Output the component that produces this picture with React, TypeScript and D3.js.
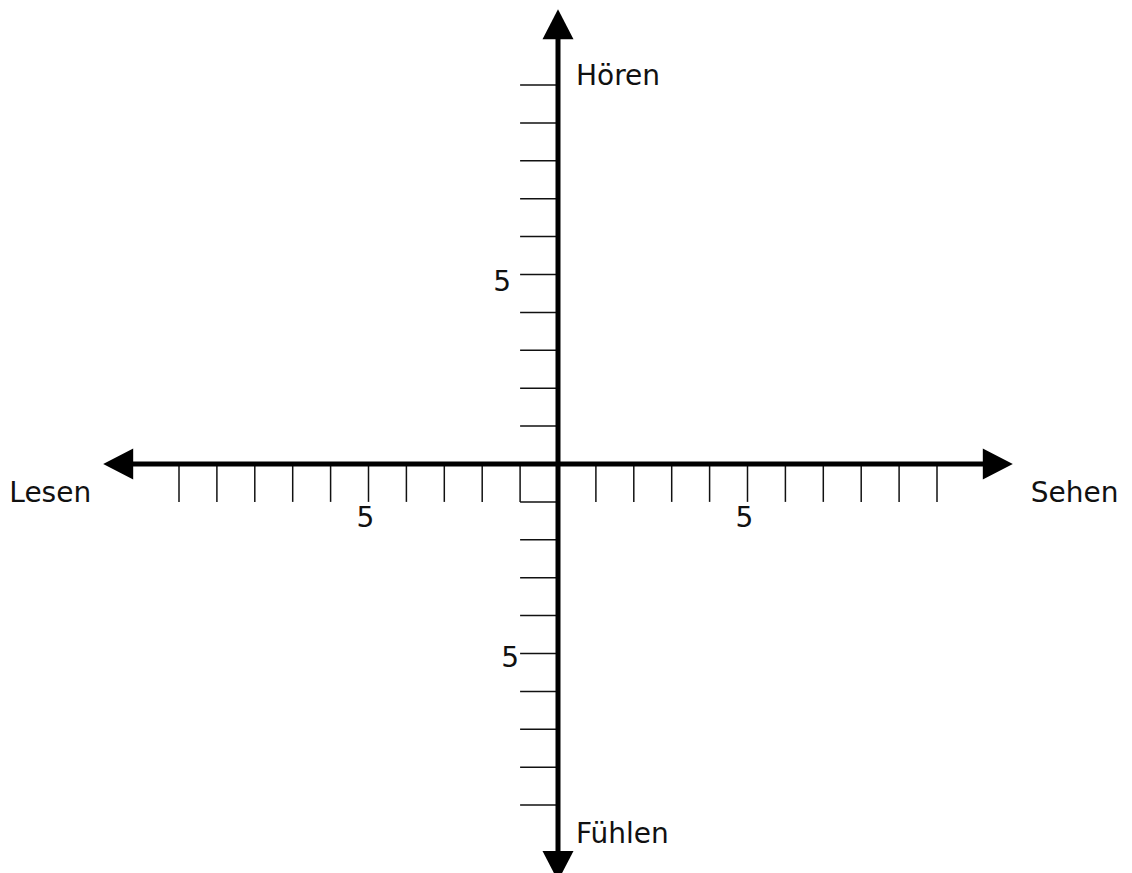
import React from 'react';
import * as d3 from 'd3';

// tick positions along each axis (units)
const xTickValues = [-10, -9, -8, -7, -6, -5, -4, -3, -2, -1, 1, 2, 3, 4, 5, 6, 7, 8, 9, 10];
const yTickValues = [-9, -8, -7, -6, -5, -4, -3, -2, -1, 1, 2, 3, 4, 5, 6, 7, 8, 9, 10];

// labelled ticks (the chart shows "5" on both sides, no sign)
const xTickLabelValues = [-5, 5];
const xTickLabelTexts = ['5', '5'];
const yTickLabelValues = [5, -5];
const yTickLabelTexts = ['5', '5'];

// axis names
const axisNames = ['Sehen', 'Lesen', 'Hören', 'Fühlen'];

const W = 1132;
const H = 873;
const FONT = '"DejaVu Sans", Verdana, sans-serif';

export default function App() {
  const cx = 558;
  const cy = 464;
  const unit = 37.9;

  const x = d3.scaleLinear().domain([-10, 10]).range([cx - 10 * unit, cx + 10 * unit]);
  const y = d3.scaleLinear().domain([-10, 10]).range([cy + 10 * unit, cy - 10 * unit]);

  const ext = 12; // arrow tips at +-12 units (bottom one stops at -11)
  const extBottom = 11;
  const headLen = 30;
  const headHalf = 15.5;

  const arrow = (tx: number, ty: number, dx: number, dy: number) => {
    const bx = tx - dx * headLen;
    const by = ty - dy * headLen;
    const px = -dy * headHalf;
    const py = dx * headHalf;
    return `M${tx},${ty}L${bx + px},${by + py}L${bx - px},${by - py}Z`;
  };

  const tickLen = x(1) - x(0);

  return (
    <svg
      width={W}
      height={H}
      style={{ position: 'absolute', left: 0, top: 0, background: '#fff' }}
    >
      {/* ticks: below the horizontal axis, left of the vertical one */}
      <g stroke="#111" strokeWidth={1.5}>
        {xTickValues.map((v) => (
          <line key={'xt' + v} x1={x(v)} x2={x(v)} y1={y(0)} y2={y(0) + tickLen} />
        ))}
        {yTickValues.map((v) => (
          <line key={'yt' + v} x1={x(0) - tickLen} x2={x(0)} y1={y(v)} y2={y(v)} />
        ))}
      </g>

      {/* main axes */}
      <g stroke="#000" strokeWidth={5}>
        <line x1={x(-ext) + headLen - 2} x2={x(ext) - headLen + 2} y1={y(0)} y2={y(0)} />
        <line x1={x(0)} x2={x(0)} y1={y(ext) + headLen - 2} y2={y(-extBottom) - headLen + 2} />
      </g>
      <g fill="#000">
        <path d={arrow(x(ext), y(0), 1, 0)} />
        <path d={arrow(x(-ext), y(0), -1, 0)} />
        <path d={arrow(x(0), y(ext), 0, -1)} />
        <path d={arrow(x(0), y(-extBottom), 0, 1)} />
      </g>

      {/* tick labels */}
      <g fontFamily={FONT} fontSize={28} fill="#111">
        {xTickLabelValues.map((v, i) => (
          <text key={'xl' + i} x={x(v) - 3} y={y(0) + 63} textAnchor="middle">
            {xTickLabelTexts[i]}
          </text>
        ))}
        {yTickLabelValues.map((v, i) => (
          <text
            key={'yl' + i}
            x={x(0) - tickLen - (v > 0 ? 9 : 1)}
            y={y(v) + (v > 0 ? 16 : 13)}
            textAnchor="end"
          >
            {yTickLabelTexts[i]}
          </text>
        ))}
      </g>

      {/* axis names */}
      <g fontFamily={FONT} fontSize={28} fill="#111">
        <text x={x(ext) + 18} y={y(-1)}>{axisNames[0]}</text>
        <text x={x(-ext) - 12} y={y(-1)} textAnchor="end">{axisNames[1]}</text>
        <text x={x(0) + 18} y={y(10)}>{axisNames[2]}</text>
        <text x={x(0) + 18} y={y(-10)}>{axisNames[3]}</text>
      </g>
    </svg>
  );
}
